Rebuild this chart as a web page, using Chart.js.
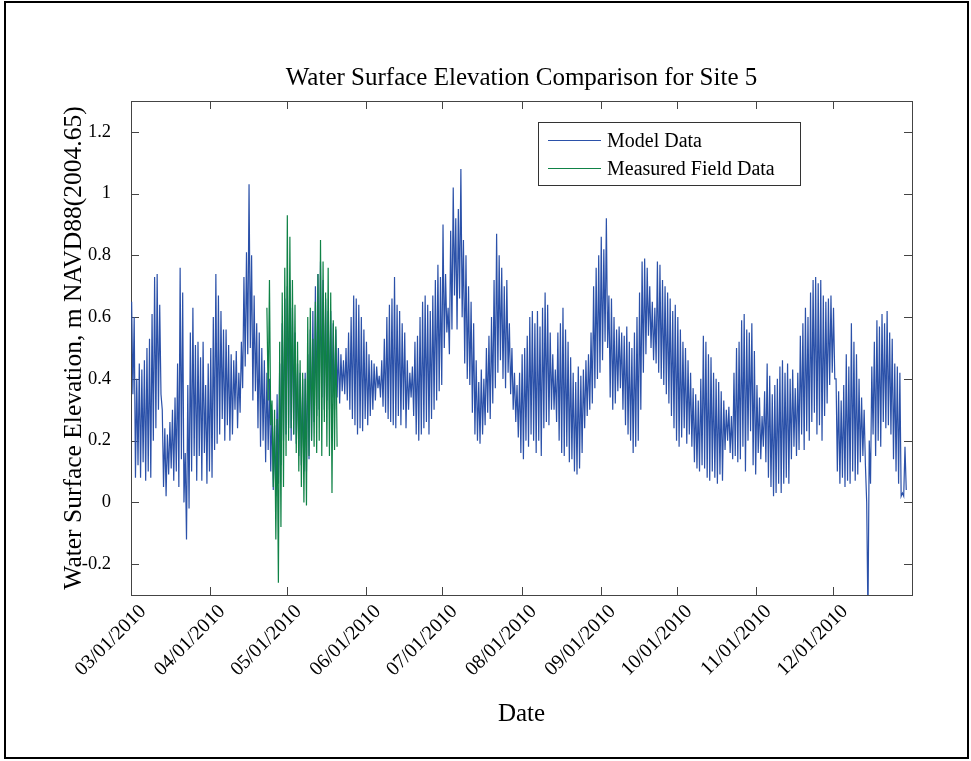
<!DOCTYPE html>
<html>
<head>
<meta charset="utf-8">
<script src="https://cdn.jsdelivr.net/npm/chart.js@4.4.1/dist/chart.umd.min.js"></script>
<style>
  html, body { margin: 0; padding: 0; background: #fff; }
  canvas { display: block; }
</style>
</head>
<body>
<canvas id="wse" width="971" height="761"></canvas>
<script>
// Daily high / low water surface elevation (m NAVD88), day 0 = 03/01/2010
const MODEL_HIGH = [
  0.65,0.60,0.40,0.45,0.43,0.46,0.50,0.53,0.61,0.73,
  0.74,0.64,0.30,0.24,0.22,0.26,0.30,0.34,0.45,0.76,
  0.68,0.16,0.38,0.55,0.63,0.51,0.52,0.47,0.52,0.38,
  0.45,0.50,0.60,0.74,0.67,0.62,0.56,0.56,0.51,0.48,
  0.46,0.49,0.42,0.52,0.73,0.81,1.03,0.80,0.67,0.58,
  0.55,0.50,0.46,0.42,0.40,0.30,0.25,0.35,0.45,0.58,
  0.66,0.70,0.72,0.63,0.55,0.45,0.42,0.40,0.42,0.48,
  0.56,0.62,0.70,0.74,0.78,0.72,0.66,0.62,0.62,0.58,
  0.56,0.50,0.48,0.46,0.50,0.55,0.60,0.67,0.66,0.64,
  0.60,0.56,0.52,0.48,0.46,0.45,0.44,0.41,0.46,0.53,
  0.60,0.64,0.66,0.73,0.64,0.62,0.58,0.55,0.46,0.42,
  0.44,0.52,0.54,0.60,0.65,0.67,0.64,0.62,0.67,0.72,
  0.77,0.73,0.90,0.74,0.63,0.88,1.02,0.92,0.95,1.08,
  0.85,0.80,0.70,0.65,0.58,0.46,0.39,0.43,0.40,0.50,
  0.54,0.60,0.72,0.87,0.80,0.76,0.70,0.72,0.58,0.50,
  0.42,0.38,0.42,0.48,0.50,0.54,0.60,0.62,0.58,0.62,
  0.57,0.63,0.68,0.64,0.55,0.48,0.43,0.55,0.58,0.63,
  0.56,0.52,0.47,0.42,0.39,0.44,0.41,0.43,0.46,0.48,
  0.55,0.70,0.76,0.80,0.86,0.82,0.92,0.67,0.66,0.60,
  0.56,0.57,0.55,0.54,0.57,0.52,0.50,0.55,0.60,0.68,
  0.78,0.79,0.76,0.70,0.65,0.63,0.78,0.77,0.72,0.70,
  0.68,0.66,0.62,0.64,0.60,0.56,0.52,0.50,0.46,0.42,
  0.37,0.35,0.33,0.40,0.54,0.52,0.48,0.47,0.42,0.40,
  0.39,0.36,0.33,0.30,0.31,0.28,0.42,0.50,0.52,0.59,
  0.61,0.56,0.55,0.58,0.49,0.38,0.34,0.28,0.36,0.45,
  0.41,0.35,0.38,0.40,0.44,0.46,0.42,0.45,0.40,0.43,
  0.37,0.42,0.54,0.58,0.63,0.60,0.68,0.72,0.73,0.71,
  0.72,0.67,0.65,0.66,0.67,0.63,0.40,0.36,0.33,0.38,
  0.48,0.44,0.58,0.52,0.48,0.40,0.34,0.30,0.00,0.20,
  0.44,0.52,0.59,0.57,0.61,0.58,0.62,0.55,0.53,0.45,
  0.44,0.42,0.03,0.18
];
const MODEL_LOW = [
  0.35,0.08,0.12,0.08,0.13,0.07,0.10,0.08,0.20,0.24,
  0.30,0.35,0.05,0.02,0.09,0.11,0.07,0.10,0.05,0.14,
  0.00,-0.12,-0.02,0.10,0.15,0.07,0.15,0.07,0.16,0.06,
  0.10,0.08,0.17,0.19,0.22,0.27,0.20,0.25,0.20,0.22,
  0.30,0.24,0.29,0.37,0.44,0.48,0.50,0.33,0.36,0.24,
  0.18,0.20,0.13,0.17,0.10,0.04,0.02,0.06,0.12,0.20,
  0.22,0.24,0.20,0.22,0.19,0.15,0.12,0.10,0.10,0.14,
  0.20,0.26,0.28,0.30,0.34,0.30,0.33,0.30,0.34,0.30,
  0.34,0.32,0.36,0.35,0.33,0.30,0.27,0.25,0.22,0.24,
  0.23,0.27,0.25,0.28,0.30,0.33,0.37,0.34,0.31,0.29,
  0.27,0.26,0.25,0.24,0.28,0.25,0.30,0.24,0.30,0.34,
  0.28,0.22,0.20,0.22,0.24,0.26,0.22,0.27,0.30,0.33,
  0.36,0.38,0.50,0.55,0.48,0.56,0.67,0.56,0.66,0.60,
  0.45,0.40,0.38,0.29,0.22,0.20,0.19,0.22,0.25,0.29,
  0.27,0.32,0.37,0.42,0.46,0.40,0.37,0.42,0.35,0.30,
  0.26,0.21,0.16,0.14,0.20,0.18,0.22,0.20,0.16,0.20,
  0.15,0.24,0.26,0.25,0.30,0.30,0.26,0.20,0.16,0.15,
  0.18,0.13,0.14,0.10,0.09,0.11,0.16,0.24,0.28,0.30,
  0.32,0.37,0.40,0.42,0.46,0.52,0.50,0.34,0.30,0.32,
  0.36,0.37,0.30,0.25,0.22,0.20,0.16,0.18,0.20,0.30,
  0.42,0.48,0.54,0.50,0.46,0.45,0.42,0.40,0.38,0.35,
  0.32,0.28,0.24,0.20,0.18,0.21,0.24,0.19,0.22,0.18,
  0.13,0.11,0.10,0.12,0.11,0.08,0.07,0.10,0.08,0.06,
  0.09,0.07,0.17,0.20,0.16,0.14,0.15,0.13,0.14,0.18,
  0.10,0.20,0.23,0.12,0.09,0.16,0.14,0.18,0.13,0.08,
  0.05,0.02,0.03,0.06,0.03,0.06,0.08,0.06,0.14,0.18,
  0.15,0.17,0.22,0.17,0.23,0.20,0.26,0.29,0.22,0.25,
  0.20,0.28,0.32,0.38,0.42,0.40,0.10,0.06,0.08,0.05,
  0.07,0.06,0.10,0.07,0.09,0.13,0.15,0.12,-0.38,0.06,
  0.22,0.15,0.20,0.18,0.26,0.24,0.25,0.22,0.14,0.10,
  0.06,0.02,0.02,0.04
];

// Field gauge record, first day = 04/23/2010
const FIELD_START_DAY = 53;
const FIELD_HIGH = [
  0.63,0.72,0.33,0.30,0.27,0.52,0.68,0.76,0.93,0.86,
  0.72,0.64,0.52,0.46,0.42,0.40,0.60,0.63,0.53,0.65,
  0.74,0.85,0.78,0.68,0.76,0.68,0.59,0.57
];
const FIELD_LOW = [
  0.33,0.25,0.05,-0.12,-0.26,-0.08,0.05,0.15,0.20,0.24,
  0.22,0.16,0.10,0.05,0.00,-0.01,0.15,0.20,0.18,0.16,
  0.20,0.15,0.26,0.18,0.15,0.03,0.17,0.18
];

const MONTH_LABELS = ['03/01/2010','04/01/2010','05/01/2010','06/01/2010','07/01/2010',
                      '08/01/2010','09/01/2010','10/01/2010','11/01/2010','12/01/2010'];
const Y_TICKS = [-0.2, 0, 0.2, 0.4, 0.6, 0.8, 1, 1.2];
const Y_TICK_LABELS = ['-0.2','0','0.2','0.4','0.6','0.8','1','1.2'];

const SERIES_NAMES = ['Model Data', 'Measured Field Data'];
const CHART_TITLE = 'Water Surface Elevation Comparison for Site 5';

// ---- helpers ----
const DAY_MS = 86400000;
const ORIGIN = Date.UTC(2010, 2, 1);
const dayOf = (label) => {
  const [m, d, y] = label.split('/').map(Number);
  return (Date.UTC(y, m - 1, d) - ORIGIN) / DAY_MS;
};
const MONTH_DAYS = MONTH_LABELS.map(dayOf);
const X_END = (Date.UTC(2011, 0, 1) - ORIGIN) / DAY_MS;

// each day contributes its high then its low, giving the tidal sawtooth
function tidalPoints(highs, lows, start) {
  const pts = [];
  for (let i = 0; i < highs.length; i++) {
    pts.push({ x: start + i + 0.25, y: highs[i] });
    pts.push({ x: start + i + 0.75, y: lows[i] });
  }
  return pts;
}

const SERIF = '"Liberation Serif", "Times New Roman", serif';
const BLUE = '#2b51a9';
const GREEN = '#0f8246';
const AXIS = '#444';

const framePlugin = {
  id: 'frame',
  beforeDraw(chart) {
    const c = chart.ctx;
    c.save();
    c.fillStyle = '#fff';
    c.fillRect(0, 0, chart.width, chart.height);
    c.restore();
  },
  beforeDatasetsDraw(chart) {
    const c = chart.ctx;
    const a = chart.chartArea;
    const xs = chart.scales.x, ys = chart.scales.y;
    const tick = 8;
    c.save();
    c.strokeStyle = AXIS;
    c.lineWidth = 1;
    c.beginPath();
    MONTH_DAYS.forEach(d => {
      const px = Math.round(xs.getPixelForValue(d)) + 0.5;
      c.moveTo(px, a.bottom); c.lineTo(px, a.bottom - tick);
      c.moveTo(px, a.top); c.lineTo(px, a.top + tick);
    });
    Y_TICKS.forEach(v => {
      const py = Math.round(ys.getPixelForValue(v)) + 0.5;
      c.moveTo(a.left, py); c.lineTo(a.left + tick, py);
      c.moveTo(a.right, py); c.lineTo(a.right - tick, py);
    });
    c.stroke();
    c.strokeRect(Math.round(a.left) + 0.5, Math.round(a.top) + 0.5,
                 Math.round(a.right - a.left), Math.round(a.bottom - a.top));
    c.restore();
  },
  afterDraw(chart) {
    const c = chart.ctx;
    const a = chart.chartArea;
    c.save();
    // title centred over the axes
    c.fillStyle = '#000';
    c.font = '25px ' + SERIF;
    c.textAlign = 'center';
    c.textBaseline = 'middle';
    c.fillText(CHART_TITLE, (a.left + a.right) / 2, a.top - 23);
    // legend box in the upper right of the axes
    const lx = a.right - 374, ly = a.top + 21, lw = 262, lh = 63;
    c.fillStyle = '#fff';
    c.fillRect(lx, ly, lw, lh);
    c.strokeStyle = '#333';
    c.lineWidth = 1;
    c.strokeRect(lx + 0.5, ly + 0.5, lw, lh);
    const rows = [
      { name: SERIES_NAMES[0], color: BLUE, y: ly + 18.5 },
      { name: SERIES_NAMES[1], color: GREEN, y: ly + 46.5 }
    ];
    c.font = '20px ' + SERIF;
    c.textAlign = 'left';
    c.fillStyle = '#000';
    rows.forEach(r => {
      c.strokeStyle = r.color;
      c.beginPath();
      c.moveTo(lx + 10, r.y); c.lineTo(lx + 63, r.y);
      c.stroke();
      c.fillText(r.name, lx + 69, r.y + 1);
    });
    // figure border
    c.strokeStyle = '#000';
    c.lineWidth = 2;
    c.strokeRect(5, 2, 963, 756);
    c.restore();
  }
};

new Chart(document.getElementById('wse'), {
  type: 'line',
  data: {
    datasets: [
      { label: SERIES_NAMES[1], data: tidalPoints(FIELD_HIGH, FIELD_LOW, FIELD_START_DAY),
        borderColor: GREEN, borderWidth: 1.2, pointRadius: 0, tension: 0, order: 1 },
      { label: SERIES_NAMES[0], data: tidalPoints(MODEL_HIGH, MODEL_LOW, 0),
        borderColor: BLUE, borderWidth: 1.2, pointRadius: 0, tension: 0, order: 2 }
    ]
  },
  options: {
    responsive: false,
    animation: false,
    parsing: false,
    events: [],
    layout: { padding: { top: 101, right: 59, bottom: 0, left: 0 } },
    plugins: {
      legend: { display: false },
      tooltip: { enabled: false },
      title: { display: false }
    },
    scales: {
      x: {
        type: 'linear',
        min: 0,
        max: X_END,
        afterBuildTicks: s => { s.ticks = MONTH_DAYS.map(v => ({ value: v })); },
        afterFit: s => { s.height = 166; },
        grid: { display: false, drawTicks: false },
        border: { display: false },
        ticks: {
          autoSkip: false, minRotation: 45, maxRotation: 45, padding: 5, labelOffset: 12,
          color: '#000', font: { family: SERIF, size: 20 },
          callback: (v, i) => MONTH_LABELS[i]
        },
        title: {
          display: true, text: 'Date', color: '#000',
          font: { family: SERIF, size: 25, lineHeight: 1.2 },
          padding: { top: 0, bottom: 32 }
        }
      },
      y: {
        min: -0.3,
        max: 1.3,
        afterBuildTicks: s => { s.ticks = Y_TICKS.map(v => ({ value: v })); },
        afterFit: s => { s.width = 131; },
        grid: { display: false, drawTicks: false },
        border: { display: false },
        ticks: {
          padding: 20, color: '#000', font: { family: SERIF, size: 18.5 },
          callback: (v, i) => Y_TICK_LABELS[i]
        },
        title: {
          display: true, text: 'Water Surface Elevation, m NAVD88(2004.65)', color: '#000',
          font: { family: SERIF, size: 25.5, lineHeight: 1.2 },
          padding: { top: 59, bottom: 0 }
        }
      }
    }
  },
  plugins: [framePlugin]
});
</script>
</body>
</html>
